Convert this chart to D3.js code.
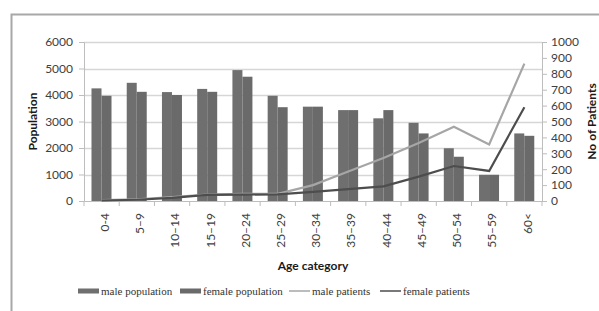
<!DOCTYPE html>
<html>
<head>
<meta charset="UTF-8">
<title>Population and patients by age</title>
<style>
    body { margin: 0; padding: 0; background: #fff; }
    svg { display: block; }
    .tick text { font-family: Lato, sans-serif; font-size: 12px; fill: #404040; }
    .title { font-family: Lato, sans-serif; font-size: 12px; font-weight: bold; fill: #1a1a1a; }
    .legend text { font-family: "Liberation Serif", serif; font-size: 11px; fill: #333; }
</style>
<script src="https://cdn.jsdelivr.net/npm/d3@7"></script>
</head>
<body>
<div id="chart"></div>
<script>
    var categories = ["0-4", "5\u20139", "10\u201314", "15\u201319", "20\u201324", "25\u201329", "30\u201334",
                      "35\u201339", "40\u201344", "45\u201349", "50\u201354", "55\u201359", "60<"];
    var malePopulation   = [4250, 4460, 4110, 4230, 4940, 3970, 3560, 3430, 3120, 2950, 1990, 990, 2550];
    var femalePopulation = [3970, 4120, 4000, 4120, 4690, 3540, 3560, 3430, 3430, 2550, 1670, 990, 2460];
    var malePatients     = [5, 10, 25, 40, 45, 45, 100, 185, 270, 365, 467, 356, 864];
    var femalePatients   = [3, 8, 20, 38, 40, 42, 58, 75, 92, 153, 220, 189, 590];
    var popTicks = [0, 1000, 2000, 3000, 4000, 5000, 6000];
    var patTicks = [0, 100, 200, 300, 400, 500, 600, 700, 800, 900, 1000];

    var W = 599, H = 311;
    var plot = {left: 84, right: 542, top: 42, bottom: 201};

    var barColors = ["#6f6f6f", "#6a6a6a"];
    var lineColors = ["#a6a6a6", "#4d4d4d"];

    var svg = d3.select("#chart").append("svg")
        .attr("width", W)
        .attr("height", H);

    // outer frame (only top and left edges visible in the crop)
    svg.append("path")
        .attr("d", "M11.5," + H + " V14.5 H" + W)
        .attr("fill", "none")
        .attr("stroke", "#a8a8a8")
        .attr("stroke-width", 2);

    var x = d3.scaleBand()
        .domain(categories)
        .range([plot.left, plot.right]);

    var x1 = d3.scaleBand()
        .domain(["male", "female"])
        .range([7.5, 27.5]);

    var yPop = d3.scaleLinear()
        .domain([0, 6000])
        .range([plot.bottom, plot.top]);

    var yPat = d3.scaleLinear()
        .domain([0, 1000])
        .range([plot.bottom, plot.top]);

    // gridlines
    svg.append("g")
        .selectAll("line")
        .data(popTicks.slice(1))
        .enter().append("line")
        .attr("x1", plot.left)
        .attr("x2", plot.right)
        .attr("y1", function(d) { return Math.round(yPop(d)) + 0.5; })
        .attr("y2", function(d) { return Math.round(yPop(d)) + 0.5; })
        .attr("stroke", "#d6d6d6")
        .attr("stroke-width", 1.5);

    // left axis
    var leftAxis = svg.append("g")
        .attr("transform", "translate(" + plot.left + ",0)")
        .call(d3.axisLeft(yPop).tickValues(popTicks).tickFormat(d3.format("d")).tickSize(5).tickPadding(6));
    leftAxis.select(".domain").attr("stroke", "#bdbdbd");
    leftAxis.selectAll(".tick line").attr("stroke", "#bdbdbd");

    // right axis
    var rightAxis = svg.append("g")
        .attr("transform", "translate(" + plot.right + ",0)")
        .call(d3.axisRight(yPat).tickValues(patTicks).tickFormat(d3.format("d")).tickSize(5).tickPadding(4));
    rightAxis.select(".domain").attr("stroke", "#bdbdbd");
    rightAxis.selectAll(".tick line").attr("stroke", "#bdbdbd");

    // bars
    var series = [
        {key: "male", values: malePopulation},
        {key: "female", values: femalePopulation}
    ];
    series.forEach(function(s, si) {
        svg.append("g")
            .selectAll("rect")
            .data(s.values)
            .enter().append("rect")
            .attr("x", function(d, i) { return x(categories[i]) + x1(s.key); })
            .attr("width", x1.bandwidth())
            .attr("y", function(d) { return yPop(d); })
            .attr("height", function(d) { return plot.bottom - yPop(d); })
            .attr("fill", barColors[si]);
    });

    // bottom axis
    var bottomAxis = svg.append("g")
        .attr("transform", "translate(0," + plot.bottom + ")")
        .call(d3.axisBottom(x).tickSize(0).tickPadding(0));
    bottomAxis.select(".domain").attr("stroke", "#bdbdbd");
    bottomAxis.selectAll(".tick text")
        .attr("transform", "rotate(-90)")
        .attr("x", -12)
        .attr("y", 3)
        .attr("dy", "0.35em")
        .style("text-anchor", "end");
    svg.append("g")
        .selectAll("line")
        .data(categories.concat([null]))
        .enter().append("line")
        .attr("x1", function(d, i) { return plot.left + i * x.bandwidth(); })
        .attr("x2", function(d, i) { return plot.left + i * x.bandwidth(); })
        .attr("y1", plot.bottom)
        .attr("y2", plot.bottom + 5)
        .attr("stroke", "#bdbdbd");

    // patient lines
    var line = d3.line()
        .x(function(d, i) { return x(categories[i]) + x.bandwidth() / 2; })
        .y(function(d) { return yPat(d); });

    [malePatients, femalePatients].forEach(function(vals, i) {
        svg.append("path")
            .datum(vals)
            .attr("d", line)
            .attr("fill", "none")
            .attr("stroke", lineColors[i])
            .attr("stroke-width", 2.2);
    });

    // axis titles
    svg.append("text")
        .attr("class", "title")
        .attr("transform", "translate(37," + ((plot.top + plot.bottom) / 2) + ") rotate(-90)")
        .attr("text-anchor", "middle")
        .text("Population");

    svg.append("text")
        .attr("class", "title")
        .attr("transform", "translate(596," + ((plot.top + plot.bottom) / 2) + ") rotate(-90)")
        .attr("text-anchor", "middle")
        .text("No of Patients");

    svg.append("text")
        .attr("class", "title")
        .attr("x", (plot.left + plot.right) / 2)
        .attr("y", 270)
        .attr("text-anchor", "middle")
        .text("Age category");

    // legend
    var legendItems = [
        {label: "male population", type: "bar", color: barColors[0], x: 78},
        {label: "female population", type: "bar", color: barColors[1], x: 180},
        {label: "male patients", type: "line", color: lineColors[0], x: 289},
        {label: "female patients", type: "line", color: lineColors[1], x: 380}
    ];
    var legend = svg.append("g").attr("class", "legend");
    legendItems.forEach(function(item) {
        var g = legend.append("g").attr("transform", "translate(" + item.x + ",291)");
        if (item.type === "bar") {
            g.append("rect").attr("x", 0).attr("y", -2.5).attr("width", 21).attr("height", 5).attr("fill", item.color);
        } else {
            g.append("line").attr("x1", 0).attr("x2", 21).attr("y1", 0).attr("y2", 0)
                .attr("stroke", item.color).attr("stroke-width", 1.5);
        }
        g.append("text").attr("x", 23).attr("y", 0).attr("dy", "0.35em").text(item.label);
    });
</script>
</body>
</html>
